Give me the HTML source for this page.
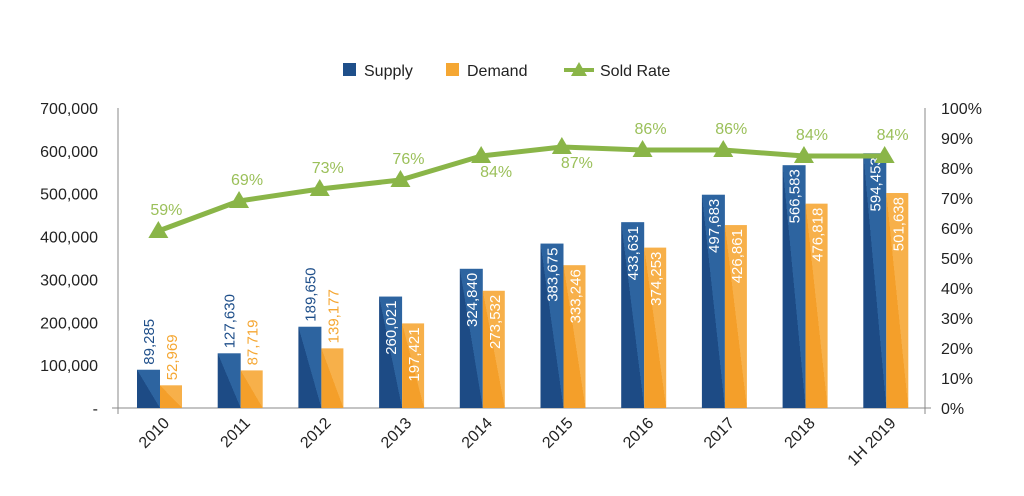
<!DOCTYPE html>
<html><head><meta charset="utf-8"><style>
html,body{margin:0;padding:0;background:#fff;}
svg{display:block;font-family:"Liberation Sans",Arial,sans-serif;}
</style></head><body>
<svg id="chart" width="1024" height="496">
<defs>
<linearGradient id="gs" x1="0" y1="1" x2="1" y2="0"><stop offset="0.5" stop-color="#1d4b85"/><stop offset="0.5" stop-color="#2d64a0"/></linearGradient>
<linearGradient id="gd" x1="0" y1="1" x2="1" y2="0"><stop offset="0.5" stop-color="#f49f2a"/><stop offset="0.5" stop-color="#f7b04a"/></linearGradient>
</defs>
<g>
<rect x="343" y="63" width="13" height="13" fill="#1f4f8a"/>
<text x="364" y="76" font-size="16" fill="#222">Supply</text>
<rect x="446" y="63" width="13" height="13" fill="#f5a733"/>
<text x="467" y="76" font-size="16" fill="#222">Demand</text>
<line x1="564" y1="70" x2="594" y2="70" stroke="#8ab548" stroke-width="4"/>
<path d="M579,62 L587,76 L571,76 Z" fill="#8ab548"/>
<text x="600" y="76" font-size="16" fill="#222">Sold Rate</text>
</g>
<g id="plot"></g>
</svg>
<script>
const categories=["2010","2011","2012","2013","2014","2015","2016","2017","2018","1H2019"];
const supply=[89285,127630,189650,260021,324840,383675,433631,497683,566583,594453];
const demand=[52969,87719,139177,197421,273532,333246,374253,426861,476818,501638];
const soldRate=[59,69,73,76,84,87,86,86,84,84];
const leftTicks=[0,100000,200000,300000,400000,500000,600000,700000];
const rightTicks=[0,10,20,30,40,50,60,70,80,90,100];
const NS="http://www.w3.org/2000/svg";
const g=document.getElementById('plot');
const X0=118,X1=925,Y0=408,YT=108;
const band=(X1-X0)/categories.length;
const yL=v=>Y0-(v/700000)*(Y0-YT);
const yR=v=>Y0-(v/100)*(Y0-YT);
const xC=i=>X0+band*(i+0.5);
function mk(t,a){const e=document.createElementNS(NS,t);for(const k in a)e.setAttribute(k,a[k]);g.appendChild(e);return e;}
const fmt=v=>v.toLocaleString('en-US');
leftTicks.forEach(v=>{const t=mk('text',{x:98,y:yL(v)+6,'text-anchor':'end','font-size':16,fill:'#222'});t.textContent=v===0?'-':fmt(v);

});
rightTicks.forEach(v=>{const t=mk('text',{x:941,y:yR(v)+6,'font-size':16,fill:'#222'});t.textContent=v+'%';

});
let ax=mk('line',{x1:X0,y1:YT,x2:X0,y2:Y0+6,stroke:'#888','stroke-width':1});


ax=mk('line',{x1:X1,y1:YT,x2:X1,y2:Y0+6,stroke:'#888','stroke-width':1});


ax=mk('line',{x1:X0-6,y1:Y0,x2:X1+6,y2:Y0,stroke:'#888','stroke-width':1});


function valLabel(x,top,v,color){
  const inside=v>195000;
  const y=inside?top+4:top-5;
  const t=mk('text',{x:0,y:0,'font-size':15,fill:inside?'#fff':color,'text-anchor':inside?'end':'start',transform:`translate(${x},${y}) rotate(-90)`});
  t.textContent=fmt(v);
  return t;
}
categories.forEach((c,i)=>{
  const bl=X0+band*i+19;
  const ys=yL(supply[i]),yd=yL(demand[i]);
  const bs=mk('rect',{x:bl,y:ys,width:23,height:Y0-ys,fill:'url(#gs)'});
  
  
  const bd=mk('rect',{x:bl+23,y:yd,width:22,height:Y0-yd,fill:'url(#gd)'});
  
  
  const ls=valLabel(bl+17,ys,supply[i],'#1f4f8a');
  
  
  const ld=valLabel(bl+40,yd,demand[i],'#f5a733');
  
  
  const xl=mk('text',{x:0,y:0,'font-size':16,fill:'#222','text-anchor':'end',transform:`translate(${xC(i)+12},${Y0+16}) rotate(-45)`});
  xl.textContent=c==='1H2019'?'1H 2019':c;
  
  
});
const pts=soldRate.map((v,i)=>[xC(i),yR(v)]);
const line=mk('polyline',{points:pts.map(p=>p.join(',')).join(' '),fill:'none',stroke:'#8ab548','stroke-width':5,'stroke-linejoin':'round'});


pts.forEach((p,i)=>{
  const m=mk('path',{d:`M${p[0]},${p[1]-10} L${p[0]+10},${p[1]+7} L${p[0]-10},${p[1]+7} Z`,fill:'#8ab548'});
  
  
  const below=(i===4||i===5);
  const t=mk('text',{x:p[0]+(below?15:8),y:below?p[1]+21:p[1]-16,'text-anchor':'middle','font-size':16,fill:'#9bc05a'});
  t.textContent=soldRate[i]+'%';
  
  
});
</script>
</body></html>
